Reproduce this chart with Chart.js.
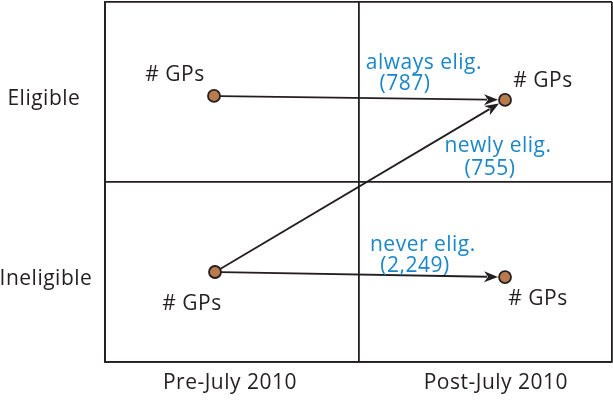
<!DOCTYPE html>
<html>
<head>
<meta charset="utf-8">
<script src="https://cdn.jsdelivr.net/npm/chart.js@4/dist/chart.umd.min.js"></script>
<style>
  body { margin: 0; background: #fff; }
</style>
</head>
<body>
<canvas id="myChart" width="613" height="402"></canvas>
<script>
// quadrant grid: columns = period, rows = eligibility
const colLabels = ['Pre-July 2010', 'Post-July 2010'];
const rowLabels = ['Ineligible', 'Eligible'];

// GP group points (x: period, y: eligibility), in grid units 0..2
const pointNames = ['# GPs', '# GPs', '# GPs', '# GPs'];
const pointX = [0.43, 1.578, 0.434, 1.578];
const pointY = [1.478, 1.456, 0.5, 0.472];
const pointLabelX = [0.276, 1.728, 0.343, 1.708];
const pointLabelY = [1.6, 1.567, 0.333, 0.361];

// flows between groups
const flowFrom = [0, 2, 2];
const flowTo = [1, 1, 3];
const flowNames = ['always elig.', 'newly elig.', 'never elig.'];
const flowCounts = [787, 755, 2249];
const flowNameX = [1.258, 1.55, 1.254];
const flowNameY = [1.672, 1.211, 0.661];
const flowCountX = [1.183, 1.519, 1.223];
const flowCountY = [1.55, 1.083, 0.539];

const rowLabelX = [-0.233, -0.241];
const rowLabelY = [0.467, 1.472];
const colLabelX = [0.493, 1.542];
const colLabelY = [-0.111, -0.111];

const ink = '#231f20';
const blue = '#1b87c9';
const font = '"Open Sans", sans-serif';
const radius = 6;

const diagram = {
    id: 'diagram',
    afterDatasetsDraw(chart) {
        const ctx = chart.ctx;
        const xs = chart.scales.x, ys = chart.scales.y;
        const px = v => xs.getPixelForValue(v);
        const py = v => ys.getPixelForValue(v);
        ctx.save();
        // arrows
        ctx.strokeStyle = ink;
        ctx.fillStyle = ink;
        ctx.lineWidth = 1.8;
        flowFrom.forEach((f, i) => {
            const t = flowTo[i];
            const x1 = px(pointX[f]), y1 = py(pointY[f]);
            const x2 = px(pointX[t]), y2 = py(pointY[t]);
            const a = Math.atan2(y2 - y1, x2 - x1);
            const sx = x1 + Math.cos(a) * radius, sy = y1 + Math.sin(a) * radius;
            const ex = x2 - Math.cos(a) * (radius + 1), ey = y2 - Math.sin(a) * (radius + 1);
            const hl = 14, hw = 5.5;
            const bx = ex - Math.cos(a) * hl, by = ey - Math.sin(a) * hl;
            ctx.beginPath();
            ctx.moveTo(sx, sy);
            ctx.lineTo(bx + Math.cos(a) * 3, by + Math.sin(a) * 3);
            ctx.stroke();
            ctx.beginPath();
            ctx.moveTo(ex, ey);
            ctx.lineTo(bx - Math.sin(a) * hw, by + Math.cos(a) * hw);
            ctx.lineTo(bx + Math.cos(a) * 4, by + Math.sin(a) * 4);
            ctx.lineTo(bx + Math.sin(a) * hw, by - Math.cos(a) * hw);
            ctx.closePath();
            ctx.fill();
        });
        ctx.textAlign = 'center';
        ctx.textBaseline = 'middle';
        ctx.font = '500 21px ' + font;
        ctx.letterSpacing = '0.5px';
        const text = (s, x, y) => ctx.fillText(s, px(x), py(y) + 1.5);
        ctx.fillStyle = ink;
        pointNames.forEach((n, i) => text(n, pointLabelX[i], pointLabelY[i]));
        rowLabels.forEach((n, i) => text(n, rowLabelX[i], rowLabelY[i]));
        colLabels.forEach((n, i) => text(n, colLabelX[i], colLabelY[i]));
        ctx.fillStyle = blue;
        flowNames.forEach((n, i) => {
            text(n, flowNameX[i], flowNameY[i]);
            text('(' + flowCounts[i].toLocaleString('en-US') + ')', flowCountX[i], flowCountY[i]);
        });
        ctx.restore();
    }
};

const ctx = document.getElementById('myChart').getContext('2d');
const myChart = new Chart(ctx, {
    type: 'scatter',
    data: {
        datasets: [{
            data: pointX.map((x, i) => ({ x, y: pointY[i] })),
            backgroundColor: '#b97a4e',
            borderColor: ink,
            borderWidth: 1.8,
            pointRadius: radius,
            pointHoverRadius: radius,
        }]
    },
    options: {
        responsive: false,
        animation: false,
        layout: { autoPadding: false, padding: { left: 105, right: 1, top: 2, bottom: 40 } },
        plugins: { legend: { display: false }, tooltip: { enabled: false } },
        scales: {
            x: {
                min: 0, max: 2,
                ticks: { display: false, stepSize: 1 },
                grid: { color: ink, lineWidth: 1.8, drawTicks: false },
                border: { color: ink, width: 1.8 }
            },
            y: {
                min: 0, max: 2,
                ticks: { display: false, stepSize: 1 },
                grid: { color: ink, lineWidth: 1.8, drawTicks: false },
                border: { color: ink, width: 1.8 }
            }
        }
    },
    plugins: [diagram]
});
</script>
</body>
</html>
